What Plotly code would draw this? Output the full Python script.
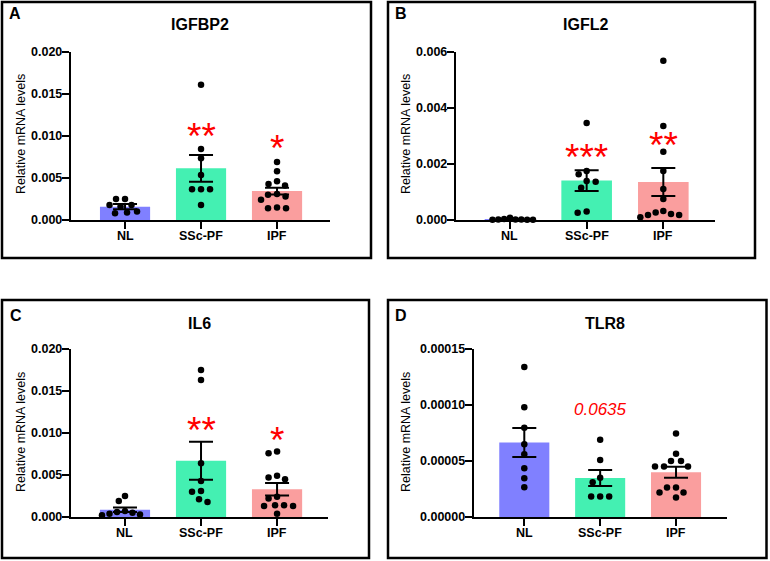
import plotly.graph_objects as go
import numpy as np

W, H = 770, 561
FONT = "Arial, Liberation Sans, sans-serif"

groups = ["NL", "SSc-PF", "IPF"]
bar_colors = ["#8080FF", "#44F0B2", "#FA9E9E"]

# ---------------- Panel A : IGFBP2 ----------------
a_nl = [0.0025, 0.0025, 0.0018, 0.0018, 0.0016, 0.0010, 0.0009, 0.0008]
a_ssc = [0.0161, 0.00845, 0.00734, 0.00536, 0.00365, 0.00365, 0.00365, 0.00179]
a_ipf = [0.0069, 0.0058, 0.0046, 0.0043, 0.0041, 0.0031, 0.0030, 0.0028, 0.0024, 0.0015, 0.0014, 0.0014]
a_mean = [0.00158, 0.00615, 0.00345]
a_sem = [0.00031, 0.00159, 0.0004]

# ---------------- Panel B : IGFL2 ----------------
b_nl = [0.00002, 0.00008, 0.00004, 0.00001, 0.00002, 0.00001, 0.00002, 0.00001]
b_ssc = [0.00346, 0.00175, 0.00163, 0.00139, 0.00137, 0.00115, 0.00026, 0.00030]
b_ipf = [0.00569, 0.00336, 0.00244, 0.00175, 0.00111, 0.00075, 0.00018, 0.00027, 0.00018, 0.00021, 0.00032, 0.00010]
b_mean = [0.00003, 0.00141, 0.00136]
b_sem = [0.00001, 0.00037, 0.0005]

# ---------------- Panel C : IL6 ----------------
c_nl = [0.0025, 0.0019, 0.0007, 0.0006, 0.0005, 0.0004, 0.0003, 0.0002]
c_ssc = [0.0175, 0.0163, 0.0064, 0.0043, 0.0031, 0.0030, 0.0021, 0.0018]
c_ipf = [0.0078, 0.0076, 0.0049, 0.0047, 0.0045, 0.0024, 0.0022, 0.0014, 0.0014, 0.0013, 0.0013, 0.0004]
c_mean = [0.00087, 0.0067, 0.0033]
c_sem = [0.00027, 0.00227, 0.00075]

# ---------------- Panel D : TLR8 ----------------
d_nl = [13.4e-5, 9.8e-5, 7.96e-5, 6.5e-5, 5.6e-5, 4.35e-5, 3.46e-5, 2.66e-5]
d_ssc = [6.9e-5, 5.1e-5, 3.5e-5, 3.1e-5, 1.84e-5, 1.84e-5, 1.84e-5]
d_ipf = [7.45e-5, 5.65e-5, 5.0e-5, 5.0e-5, 4.5e-5, 4.5e-5, 4.5e-5, 2.63e-5, 2.63e-5, 2.19e-5, 2.19e-5, 1.75e-5]
d_mean = [6.65e-5, 3.48e-5, 4.0e-5]
d_sem = [1.3e-5, 0.71e-5, 0.49e-5]

titles = ["IGFBP2", "IGFL2", "IL6", "TLR8"]
letters = ["A", "B", "C", "D"]
y_max = [0.020, 0.006, 0.020, 0.00015]
y_ticks = [[0, 0.005, 0.010, 0.015, 0.020],
           [0, 0.002, 0.004, 0.006],
           [0, 0.005, 0.010, 0.015, 0.020],
           [0, 0.00005, 0.00010, 0.00015]]
y_decimals = [3, 3, 3, 5]
sig_text = [["", "**", "*"], ["", "***", "**"], ["", "**", "*"], ["", "0.0635", ""]]
sig_y = [[None, 0.0107, 0.0092], [None, 0.00244, 0.00286],
         [None, 0.0110, 0.0098], [None, 9.64e-5, None]]

panels = [
    ([a_nl, a_ssc, a_ipf], a_mean, a_sem),
    ([b_nl, b_ssc, b_ipf], b_mean, b_sem),
    ([c_nl, c_ssc, c_ipf], c_mean, c_sem),
    ([d_nl, d_ssc, d_ipf], d_mean, d_sem),
]

# layout geometry (pixels)
ax_x = [(71, 330), (456, 715), (71, 328), (474, 727)]
ax_y = [(52, 220), (52, 220), (349, 517), (349, 517)]
x_rng = [(-0.711, 2.697), (-0.704, 2.674), (-0.71, 2.67), (-0.663, 2.672)]
frames = [(2, 2, 371, 258), (388, 2, 755, 258), (2, 300, 369, 558), (388, 300, 766.5, 558)]
title_pos = [(200, 25), (585.5, 25), (200, 323), (605, 323)]
letter_pos = [(14.5, 14), (401, 14), (15.5, 315), (401, 315)]
ytitle_pos = [(21, 134), (406, 134), (21, 432), (406, 432)]


def swarm(vals, px_per_unit, d=8.6, max_half=23.0):
    n = len(vals)
    order = sorted(range(n), key=lambda i: -vals[i])
    cands = sorted(np.arange(-40, 40.25, 0.5), key=abs)
    placed = []
    offs = [0.0] * n
    for i in order:
        y = vals[i] * px_per_unit
        chosen = 0.0
        for c in cands:
            if all((c - ox) ** 2 + (y - oy) ** 2 >= d * d for ox, oy in placed):
                chosen = c
                break
        placed.append((chosen, y))
        offs[i] = chosen
    m = max(abs(o) for o in offs) if offs else 0
    if m > max_half:
        offs = [o * max_half / m for o in offs]
    return offs


def py2p(y):
    return 1 - y / H


fig = go.Figure()
layout = dict(width=W, height=H, margin=dict(l=0, r=0, t=0, b=0),
              paper_bgcolor="white", plot_bgcolor="white", showlegend=False,
              font=dict(family=FONT, color="black"))
annotations = []
shapes = []
bold12 = dict(size=12.5, family=FONT, weight="bold", color="black")

for p, (pts, means, sems) in enumerate(panels):
    k = p + 1
    xa = "x" if k == 1 else f"x{k}"
    ya = "y" if k == 1 else f"y{k}"
    x0, x1 = ax_x[p]
    y0, y1 = ax_y[p]
    r0, r1 = x_rng[p]
    px_per_cat = (x1 - x0) / (r1 - r0)
    px_per_val = (y1 - y0) / y_max[p]

    fig.add_trace(go.Bar(x=[0, 1, 2], y=means, width=0.66,
                         marker=dict(color=bar_colors, line=dict(width=0)),
                         error_y=dict(type="data", array=sems, visible=True,
                                      color="black", thickness=2, width=12),
                         xaxis=xa, yaxis=ya, hoverinfo="skip"))
    for g, vals in enumerate(pts):
        offs = swarm(vals, px_per_val)
        xs = [g + o / px_per_cat for o in offs]
        fig.add_trace(go.Scatter(x=xs, y=vals, mode="markers", cliponaxis=False,
                                 marker=dict(color="black", size=6.5),
                                 xaxis=xa, yaxis=ya, hoverinfo="skip"))

    axkey = "xaxis" if k == 1 else f"xaxis{k}"
    aykey = "yaxis" if k == 1 else f"yaxis{k}"
    layout[axkey] = dict(domain=[x0 / W, x1 / W], range=[r0, r1], anchor=ya,
                         tickvals=[0, 1, 2], showticklabels=False,
                         showline=True, linecolor="black", linewidth=2,
                         ticks="outside", ticklen=7, tickwidth=2, tickcolor="black",
                         showgrid=False, zeroline=False, fixedrange=True)
    layout[aykey] = dict(domain=[py2p(y1), py2p(y0)], range=[0, y_max[p]], anchor=xa,
                         tickvals=y_ticks[p], showticklabels=False,
                         showline=True, linecolor="black", linewidth=2,
                         ticks="outside", ticklen=7, tickwidth=2, tickcolor="black",
                         showgrid=False, zeroline=False, fixedrange=True)

    # category labels
    for g, name in enumerate(groups):
        annotations.append(dict(text=name, x=g, xref=xa, y=py2p(y1 + 16), yref="paper",
                                xanchor="center", yanchor="middle", showarrow=False,
                                font=bold12))
    # value tick labels
    for tv in y_ticks[p]:
        annotations.append(dict(text=f"{tv:.{y_decimals[p]}f}", x=(x0 - 7.5) / W, xref="paper",
                                y=tv, yref=ya, xanchor="right", yanchor="middle",
                                showarrow=False, font=bold12))

    fx0, fy0, fx1, fy1 = frames[p]
    shapes.append(dict(type="rect", xref="paper", yref="paper",
                       x0=fx0 / W, x1=fx1 / W, y0=py2p(fy1), y1=py2p(fy0),
                       line=dict(color="black", width=2.5), fillcolor="rgba(0,0,0,0)"))

    tx, ty = title_pos[p]
    annotations.append(dict(text=titles[p], xref="paper", yref="paper",
                            x=tx / W, y=py2p(ty), xanchor="center", yanchor="middle",
                            showarrow=False,
                            font=dict(size=16, family=FONT, weight="bold", color="black")))
    lx, ly = letter_pos[p]
    annotations.append(dict(text=letters[p], xref="paper", yref="paper",
                            x=lx / W, y=py2p(ly), xanchor="center", yanchor="middle",
                            showarrow=False,
                            font=dict(size=16, family=FONT, weight="bold", color="black")))
    yx, yy = ytitle_pos[p]
    annotations.append(dict(text="Relative mRNA levels", xref="paper", yref="paper",
                            x=yx / W, y=py2p(yy), xanchor="center", yanchor="middle",
                            textangle=-90, showarrow=False,
                            font=dict(size=12.5, family=FONT, color="black")))
    for g in range(3):
        s = sig_text[p][g]
        if not s:
            continue
        if s.startswith("*"):
            annotations.append(dict(text=s, x=g, y=sig_y[p][g], xref=xa, yref=ya,
                                    xanchor="center", yanchor="middle", showarrow=False,
                                    yshift=-6,
                                    font=dict(size=37, family=FONT, color="#FF0000")))
        else:
            annotations.append(dict(text="<i>" + s + "</i>", x=g, y=sig_y[p][g], xref=xa, yref=ya,
                                    xanchor="center", yanchor="middle", showarrow=False,
                                    font=dict(size=17, family=FONT, color="#FF0000")))

layout["annotations"] = annotations
layout["shapes"] = shapes
fig.update_layout(**layout)
fig.write_html("out.html", config={"displayModeBar": False},
               post_script="document.body.style.margin='0px';document.body.style.overflow='hidden';")
